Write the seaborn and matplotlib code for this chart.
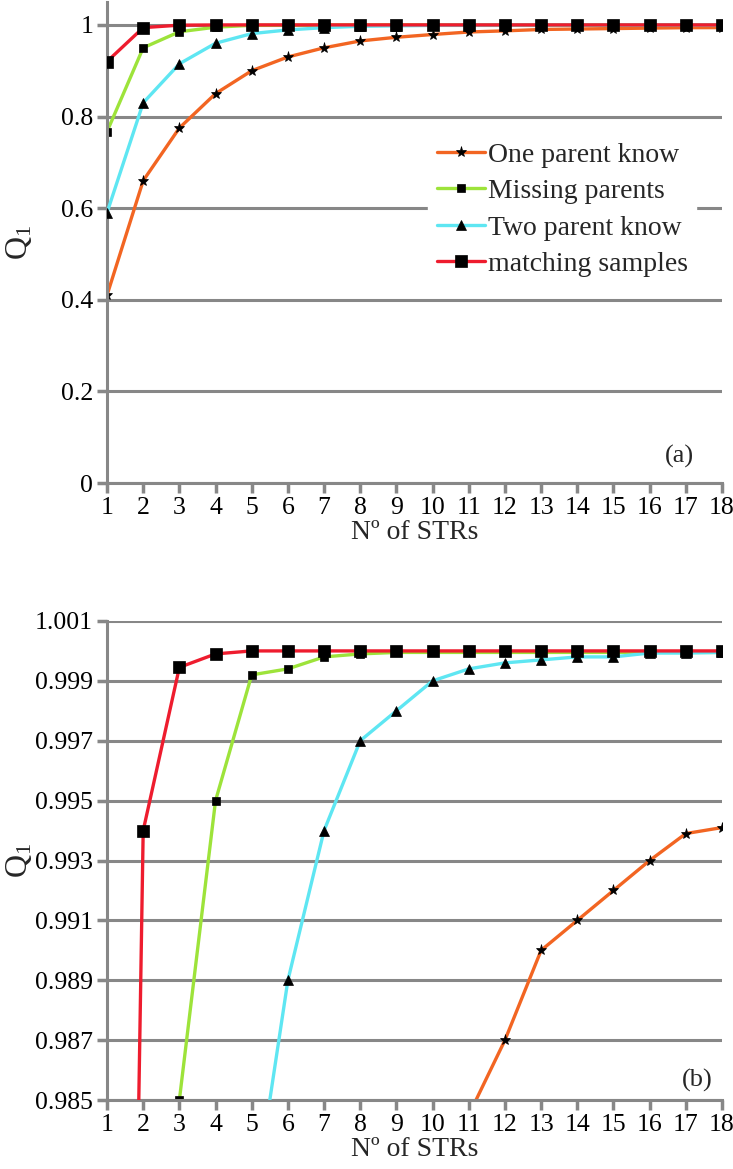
import numpy as np
import matplotlib
matplotlib.use("Agg")
import matplotlib.pyplot as plt
import seaborn as sns

# number of STRs on the x axis
strs = list(range(1, 19))

# Q1 per scenario
one_parent = [0.41, 0.66, 0.775, 0.85, 0.90, 0.93, 0.95, 0.965, 0.973, 0.979,
              0.9845, 0.987, 0.990, 0.991, 0.992, 0.993, 0.9939, 0.9941]
missing_parents = [0.767, 0.95, 0.985, 0.995, 0.9992, 0.9994, 0.9998, 0.9999, 0.99995, 0.99995,
                   0.99995, 0.99995, 0.99995, 0.99995, 0.99995, 0.99995, 0.99995, 0.99995]
two_parent = [0.59, 0.83, 0.915, 0.96, 0.981, 0.989, 0.994, 0.997, 0.998, 0.999,
              0.9994, 0.9996, 0.9997, 0.9998, 0.9998, 0.99993, 0.99993, 0.99995]
matching = [0.92, 0.994, 0.99945, 0.9999, 1.0, 1.0, 1.0, 1.0, 1.0, 1.0,
            1.0, 1.0, 1.0, 1.0, 1.0, 1.0, 1.0, 1.0]

labels = ["One parent know", "Missing parents", "Two parent know", "matching samples"]

yticks_a = [0, 0.2, 0.4, 0.6, 0.8, 1]
ytick_labels_a = ["0", "0.2", "0.4", "0.6", "0.8", "1"]
yticks_b = [0.985, 0.987, 0.989, 0.991, 0.993, 0.995, 0.997, 0.999, 1.001]
ytick_labels_b = [f"{v:.3f}" for v in yticks_b]

sns.set_style("ticks")
plt.rcParams["font.family"] = ["Liberation Serif", "DejaVu Serif"]
plt.rcParams["mathtext.fontset"] = "custom"
plt.rcParams["mathtext.rm"] = "Liberation Serif"

GRID = "#878787"
series = [
    (one_parent, "#F26522", "*", 8, 2),
    (missing_parents, "#9DE33A", "s", 6, 1),
    (two_parent, "#5EE6F2", "^", 7, 3),
    (matching, "#EE1C2E", "s", 8, 4),
]

fig = plt.figure(figsize=(7.33, 11.69), dpi=100)
ax_a = fig.add_axes([0.146, 0.5868, 0.839, 0.4115])
ax_b = fig.add_axes([0.146, 0.0590, 0.839, 0.4098])


def draw_panel(ax, ylim, yticks, yticklabels, with_labels):
    for (vals, col, mk, ms, z), lab in zip(series, labels):
        sns.lineplot(x=strs, y=vals, ax=ax, color=col, linewidth=2.4,
                     marker=mk, markersize=ms, markerfacecolor="black",
                     markeredgecolor="black", markeredgewidth=0.5,
                     label=lab if with_labels else None, zorder=z)
    ax.set_xlim(1, 18)
    ax.set_xticks(strs)
    ax.set_ylim(*ylim)
    ax.set_yticks(yticks)
    ax.set_yticklabels(yticklabels)
    ax.grid(axis="y", color=GRID, linewidth=2.2)
    ax.grid(axis="x", visible=False)
    ax.set_axisbelow(True)
    for s in ["top", "right"]:
        ax.spines[s].set_visible(False)
    for s in ["left", "bottom"]:
        ax.spines[s].set_color(GRID)
        ax.spines[s].set_linewidth(2.2)
    ax.tick_params(axis="both", which="major", direction="out", color=GRID,
                   width=2.5, length=7, bottom=True, left=True,
                   labelsize=18.5, labelcolor="black", pad=3)
    ax.set_xlabel("Nº of STRs", fontsize=20, labelpad=1)
    ax.set_ylabel(r"$\mathregular{Q_1}$", fontsize=23)
    ax.yaxis.set_label_coords(-0.118, 0.5)


draw_panel(ax_a, (0, 1.05), yticks_a, ytick_labels_a, True)
ax_a.text(0.955, 0.055, "(a)", transform=ax_a.transAxes, fontsize=19,
          ha="right", va="center")
leg = ax_a.legend(loc="upper left", bbox_to_anchor=(0.5, 0.755), fontsize=20,
                  frameon=True, facecolor="white", edgecolor="white", framealpha=1,
                  handlelength=1.75, handletextpad=0.1, labelspacing=0.4,
                  borderpad=0.3, fancybox=False)

draw_panel(ax_b, (0.985, 1.001), yticks_b, ytick_labels_b, False)
ax_b.text(0.985, 0.04, "(b)", transform=ax_b.transAxes, fontsize=19,
          ha="right", va="center")

fig.savefig("out.png", dpi=100)
